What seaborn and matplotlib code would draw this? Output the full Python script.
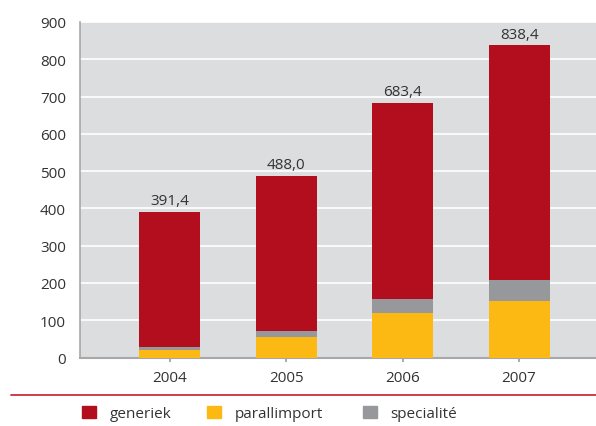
import matplotlib
matplotlib.use("Agg")
import matplotlib.pyplot as plt
import matplotlib.patches as mpatches
import matplotlib.lines as mlines
import seaborn as sns
import pandas as pd

# Data (in miljoen)
years = ["2004", "2005", "2006", "2007"]
totals = [391.4, 488.0, 683.4, 838.4]
parallimport = [20, 55, 120, 152]
specialite = [8, 16, 37, 56]
generiek = [t - p - s for t, p, s in zip(totals, parallimport, specialite)]
total_labels = ["391,4", "488,0", "683,4", "838,4"]
yticks = [0, 100, 200, 300, 400, 500, 600, 700, 800, 900]
series_names = ["generiek", "parallimport", "specialité"]

RED = "#B20E1E"
YELLOW = "#FDB913"
GREY = "#97989C"
BG = "#DCDDDF"
TEXT = "#333333"
FS = 11

sns.set_theme(style="white")
plt.rcParams["font.family"] = ["Open Sans", "DejaVu Sans"]

df = pd.DataFrame({
    "jaar": years,
    "parallimport": parallimport,
    "specialite": specialite,
    "generiek": generiek,
})
df["top_spec"] = df["parallimport"] + df["specialite"]
df["total"] = totals

fig = plt.figure(figsize=(5.96, 4.27), dpi=100)
ax = fig.add_axes([80 / 596, 1 - 358.5 / 427, 1 - 80 / 596, 335.5 / 427])
ax.set_facecolor(BG)

width = 0.525
# stacked layers drawn back to front: full total, then lower segments on top
sns.barplot(data=df, x="jaar", y="total", color=RED, width=width,
            saturation=1, ax=ax, zorder=3, linewidth=0)
sns.barplot(data=df, x="jaar", y="top_spec", color=GREY, width=width,
            saturation=1, ax=ax, zorder=4, linewidth=0)
sns.barplot(data=df, x="jaar", y="parallimport", color=YELLOW, width=width,
            saturation=1, ax=ax, zorder=5, linewidth=0)

for i, (t, lab) in enumerate(zip(totals, total_labels)):
    ax.text(i, t + 9, lab, ha="center", va="bottom", fontsize=FS,
            color=TEXT, zorder=6)

ax.set_ylim(0, 900)
ax.set_xlim(-0.77, 3.66)
ax.set_yticks(yticks)
ax.set_yticklabels([str(v) for v in yticks], fontsize=FS, color=TEXT)
ax.tick_params(axis="y", length=0, pad=10)
ax.tick_params(axis="x", length=3, color="#A0A0A0", labelsize=FS,
               labelcolor=TEXT, pad=6, direction="out", bottom=True)
ax.grid(axis="y", color="white", linewidth=1.2, zorder=1)
ax.set_axisbelow(True)
ax.set_xlabel("")
ax.set_ylabel("")
for side in ["top", "right"]:
    ax.spines[side].set_visible(False)
ax.spines["left"].set_color("#A8A8A8")
ax.spines["left"].set_linewidth(1.2)
ax.spines["bottom"].set_color("#A8A8A8")
ax.spines["bottom"].set_linewidth(1.5)

# red rule above the legend
fig.add_artist(mlines.Line2D([11 / 596, 1.0], [1 - 395.5 / 427] * 2,
                             color="#C8303E", linewidth=1.3,
                             transform=fig.transFigure))

# one legend entry per series, placed along the bottom row
legend_x = [68, 193, 349]
for name, col, x in zip(series_names, [RED, YELLOW, GREY], legend_x):
    fig.legend(handles=[mpatches.Patch(color=col, label=name)],
               loc="center left", bbox_to_anchor=(x / 596, 1 - 414.5 / 427),
               frameon=False, fontsize=FS, handlelength=0.9,
               handleheight=0.9, handletextpad=0.9, labelcolor=TEXT)

fig.savefig("out.png", dpi=100)
